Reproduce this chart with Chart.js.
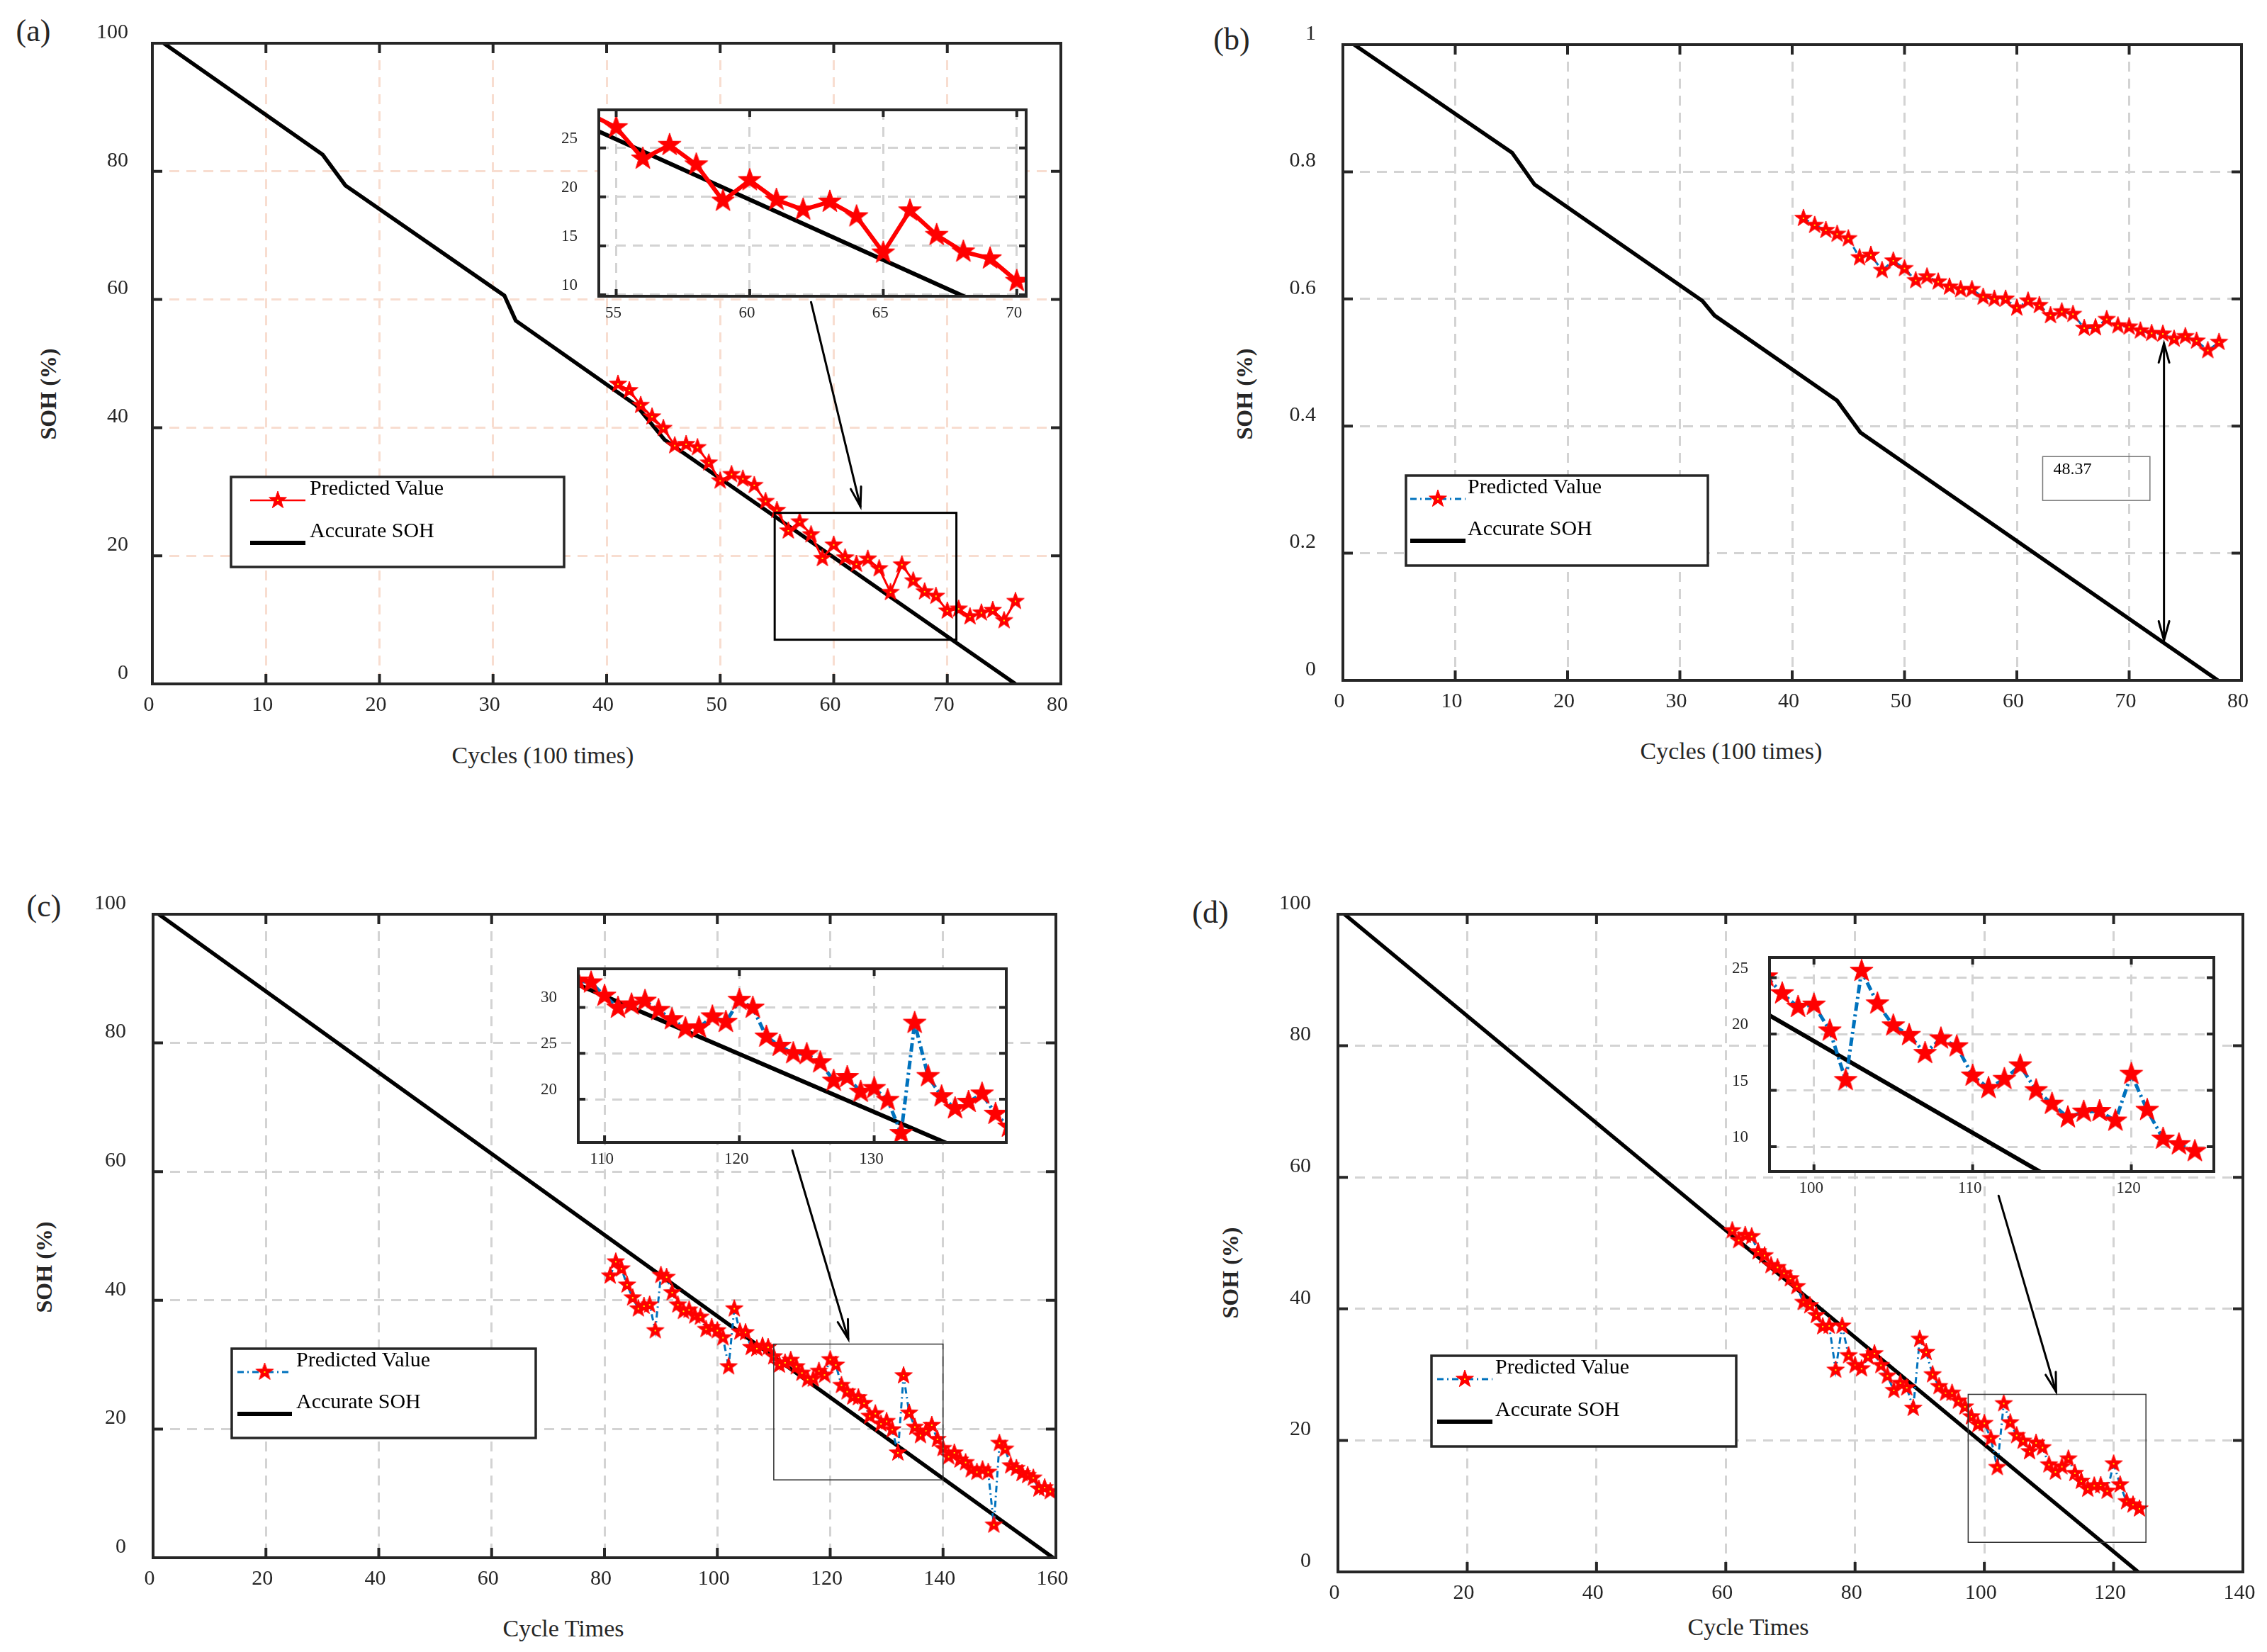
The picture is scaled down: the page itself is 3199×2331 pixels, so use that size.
<!DOCTYPE html>
<html>
<head>
<meta charset="utf-8">
<script src="https://cdn.jsdelivr.net/npm/chart.js@4.4.1/dist/chart.umd.min.js"></script>
<style>
body { margin: 0; background: #fff; width: 3199px; height: 2331px; position: relative; overflow: hidden;
       font-family: "Liberation Serif", "Times New Roman", serif; color: #262626; }
canvas { position: absolute; }
.lbl { position: absolute; white-space: nowrap; line-height: 1; transform: translate(-50%, -50%); }
.ytitle { font-weight: bold; transform: translate(-50%, -50%) rotate(-90deg); }
</style>
</head>
<body>
<div class="lbl" style="left:47px;top:44px;font-size:44px">(a)</div>
<div class="lbl" style="left:1738px;top:56px;font-size:44px">(b)</div>
<div class="lbl" style="left:62px;top:1279px;font-size:44px">(c)</div>
<div class="lbl" style="left:1708px;top:1288px;font-size:44px">(d)</div>
<div class="lbl ytitle" style="left:68px;top:556px;font-size:32px">SOH (%)</div>
<div class="lbl ytitle" style="left:1756px;top:556px;font-size:32px">SOH (%)</div>
<div class="lbl ytitle" style="left:62px;top:1788px;font-size:32px">SOH (%)</div>
<div class="lbl ytitle" style="left:1736px;top:1796px;font-size:32px">SOH (%)</div>
<div class="lbl" style="left:766px;top:1066px;font-size:34px">Cycles (100 times)</div>
<div class="lbl" style="left:2443px;top:1060px;font-size:34px">Cycles (100 times)</div>
<div class="lbl" style="left:795px;top:2298px;font-size:34px">Cycle Times</div>
<div class="lbl" style="left:2467px;top:2296px;font-size:34px">Cycle Times</div>
<script>
// ---------- data ----------
const aCycles = [41,42,43,44,45,46,47,48,49,50,51,52,53,54,55,56,57,58,59,60,61,62,63,64,65,66,67,68,69,70,71,72,73,74,75,76];
const aPredicted = [46.8,45.8,43.5,41.7,39.9,37.2,37.4,36.9,34.5,31.7,32.7,32.0,31.0,28.5,27.1,23.9,25.3,23.3,19.6,21.7,
                    19.7,18.7,19.5,18.0,14.3,18.6,16.1,14.4,13.7,11.4,11.7,10.5,11.1,11.5,9.9,12.9];
const aAccurateX = [1,15,17,31,32,42.6,45.1,76];
const aAccurateY = [100,82.6,77.8,60.6,56.7,43.5,38.1,0];

const bCycles = [41,42,43,44,45,46,47,48,49,50,51,52,53,54,55,56,57,58,59,60,61,62,63,64,65,66,67,68,69,70,71,72,73,74,75,76,77,78];
const bPredicted = [0.727,0.716,0.708,0.702,0.695,0.665,0.669,0.645,0.660,0.648,0.629,0.635,0.627,0.619,0.615,0.615,0.603,0.600,0.600,
                    0.586,0.597,0.590,0.574,0.580,0.576,0.554,0.555,0.568,0.558,0.556,0.550,0.546,0.545,0.537,0.541,0.534,0.519,0.532];
const bAccurateX = [1,15.06,17.06,32,33.08,44,46.07,77.9];
const bAccurateY = [1,0.830,0.780,0.597,0.574,0.440,0.390,0];

const cCycles = [81,82,83,84,85,86,87,88,89,90,91,92,93,94,95,96,97,98,99,100,101,102,103,104,105,106,107,108,109,110,
                 111,112,113,114,115,116,117,118,119,120,121,122,123,124,125,126,127,128,129,130,131,132,133,134,135,136,137,138,139,140,
                 141,142,143,144,145,146,147,148,149,150,151,152,153,154,155,156,157,158,159];
const cPredicted = [43.8,46.0,44.9,42.4,40.4,38.7,39.1,39.3,35.3,43.9,43.6,41.2,39.3,38.3,38.5,37.6,37.4,35.5,35.8,35.3,
                    34.2,29.7,38.7,35.1,35.0,32.7,32.5,32.9,32.7,31.25,29.95,30.3,30.7,29.7,28.7,27.7,27.8,29.0,28.4,30.8,
                    29.95,26.8,25.8,25.0,24.9,24.0,22.0,22.4,20.8,21.2,19.9,16.3,28.3,22.5,20.3,19.0,19.7,20.6,18.4,17.0,
                    15.7,16.3,15.2,14.8,13.7,13.3,13.7,13.3,5.1,17.8,16.9,14.3,13.9,13.1,12.8,12.4,10.7,10.9,10.3];
const cAccurateX = [1,159.5];
const cAccurateY = [100,0];

const dCycles = [61,62,63,64,65,66,67,68,69,70,71,72,73,74,75,76,77,78,79,80,81,82,83,84,85,86,87,88,89,90,
                 91,92,93,94,95,96,97,98,99,100,101,102,103,104,105,106,107,108,109,110,111,112,113,114,115,116,117,118,119,120,
                 121,122,123,124];
const dPredicted = [51.9,50.4,51.2,51.0,48.7,48.1,46.6,46.3,45.4,44.6,43.4,41.0,40.5,39.0,37.3,37.4,30.7,37.4,32.9,31.4,
                    30.9,32.7,33.2,31.4,29.8,27.6,28.7,28.0,24.9,35.4,33.4,30.0,28.2,27.2,27.2,26.0,25.1,23.6,22.4,22.6,
                    20.3,15.9,25.6,22.7,20.75,19.9,18.3,19.6,18.9,16.3,15.2,16.0,17.2,15.0,13.8,12.6,13.1,13.15,12.3,16.45,
                    13.25,10.7,10.2,9.6];
const dAccurateX = [1,123.8];
const dAccurateY = [100,0];

const sohTicks = [0,20,40,60,80,100];
const fractionTicks = [0,0.2,0.4,0.6,0.8,1];
const abXTicks = [0,10,20,30,40,50,60,70,80];
const cXTicks = [0,20,40,60,80,100,120,140,160];
const dXTicks = [0,20,40,60,80,100,120,140];
const aInsetXTicks = [55,60,65,70];
const aInsetYTicks = [10,15,20,25];
const cInsetXTicks = [110,120,130];
const cInsetYTicks = [20,25,30];
const dInsetXTicks = [100,110,120];
const dInsetYTicks = [10,15,20,25];

const bGapLabel = '48.37';

// ---------- styling ----------
const SERIF = '"Liberation Serif", "Times New Roman", serif';
const INK = '#262626';
const RED = '#ff0000';
const BLUE = '#0072bd';

function starImage(r, dot) {
  const s = Math.ceil(r * 2 + 4);
  const c = document.createElement('canvas');
  c.width = s; c.height = s;
  const g = c.getContext('2d');
  g.translate(s / 2, s / 2);
  g.beginPath();
  for (let i = 0; i < 10; i++) {
    const rr = i % 2 ? r * 0.4 : r;
    const a = -Math.PI / 2 + i * Math.PI / 5;
    g.lineTo(rr * Math.cos(a), rr * Math.sin(a));
  }
  g.closePath();
  g.fillStyle = RED; g.fill();
  g.strokeStyle = RED; g.lineWidth = 1; g.stroke();
  if (dot) { g.fillStyle = '#ffff00'; g.fillRect(-1, -1, 2, 2); }
  return c;
}
const starMain = starImage(13, true);
const starInset = starImage(17, false);

const pts = (xs, ys) => xs.map((x, i) => ({ x: x, y: ys[i] }));

function predictedSet(xs, ys, inset, dashed) {
  return {
    data: pts(xs, ys),
    borderColor: dashed ? BLUE : RED,
    borderWidth: inset ? 5 : 3,
    borderDash: dashed ? (inset ? [12, 5, 3, 5] : [9, 5, 2, 5]) : [],
    pointStyle: inset ? starInset : starMain,
    pointRadius: 6,
    tension: 0
  };
}
function accurateSet(xs, ys, inset) {
  return { data: pts(xs, ys), borderColor: '#000', borderWidth: inset ? 6 : 5.5, pointRadius: 0, tension: 0 };
}

function arrow(ctx, x1, y1, x2, y2, both) {
  ctx.save();
  ctx.strokeStyle = '#000'; ctx.lineWidth = 3; ctx.lineCap = 'round';
  ctx.beginPath(); ctx.moveTo(x1, y1); ctx.lineTo(x2, y2); ctx.stroke();
  const head = (tx, ty, fx, fy) => {
    const a = Math.atan2(ty - fy, tx - fx), L = 28, s = 0.27;
    ctx.beginPath();
    ctx.moveTo(tx - L * Math.cos(a - s), ty - L * Math.sin(a - s));
    ctx.lineTo(tx, ty);
    ctx.lineTo(tx - L * Math.cos(a + s), ty - L * Math.sin(a + s));
    ctx.stroke();
  };
  head(x2, y2, x1, y1);
  if (both) head(x1, y1, x2, y2);
  ctx.restore();
}

function dataRect(chart, x1, x2, y1, y2, width, color) {
  const { ctx, scales: { x, y } } = chart;
  ctx.save();
  ctx.strokeStyle = color; ctx.lineWidth = width;
  const l = x.getPixelForValue(x1), r = x.getPixelForValue(x2);
  const t = y.getPixelForValue(y2), b = y.getPixelForValue(y1);
  ctx.strokeRect(l, t, r - l, b - t);
  ctx.restore();
  return { l, t, r, b };
}

function dataArrow(chart, x1, y1, x2, y2, both) {
  const { ctx, scales: { x, y } } = chart;
  arrow(ctx, x.getPixelForValue(x1), y.getPixelForValue(y1), x.getPixelForValue(x2), y.getPixelForValue(y2), both);
}

// legend drawn in page coordinates, shifted into the canvas
function legend(chart, org, L) {
  const ctx = chart.ctx;
  const px = v => v - org.x, py = v => v - org.y;
  ctx.save();
  ctx.fillStyle = '#fff';
  ctx.fillRect(px(L.box[0]), py(L.box[1]), L.box[2] - L.box[0], L.box[3] - L.box[1]);
  ctx.strokeStyle = INK; ctx.lineWidth = 3.5;
  ctx.strokeRect(px(L.box[0]), py(L.box[1]), L.box[2] - L.box[0], L.box[3] - L.box[1]);
  // predicted
  ctx.strokeStyle = L.dashed ? BLUE : RED; ctx.lineWidth = L.dashed ? 3 : 2.5;
  ctx.setLineDash(L.dashed ? [9, 5, 2, 5] : []);
  ctx.beginPath(); ctx.moveTo(px(L.lineX[0]), py(L.y1)); ctx.lineTo(px(L.lineX[1]), py(L.y1)); ctx.stroke();
  ctx.setLineDash([]);
  const cx = px((L.lineX[0] + L.lineX[1]) / 2);
  ctx.drawImage(starMain, cx - starMain.width / 2, py(L.y1) - starMain.height / 2);
  // accurate
  ctx.strokeStyle = '#000'; ctx.lineWidth = 6;
  ctx.beginPath(); ctx.moveTo(px(L.lineX[0]), py(L.y2)); ctx.lineTo(px(L.lineX[1]), py(L.y2)); ctx.stroke();
  ctx.fillStyle = '#000';
  ctx.font = '30px ' + SERIF;
  ctx.textAlign = 'left'; ctx.textBaseline = 'middle';
  ctx.fillText('Predicted Value', px(L.textX), py(L.y1 - 16));
  ctx.fillText('Accurate SOH', px(L.textX), py(L.y2 - 16));
  ctx.restore();
}

function panel(o) {
  const cv = document.createElement('canvas');
  const W = o.r - o.l + o.padL + o.padR, H = o.b - o.t + o.padT + o.padB;
  cv.width = W; cv.height = H;
  const org = { x: o.l - o.padL, y: o.t - o.padT };
  cv.style.left = org.x + 'px'; cv.style.top = org.y + 'px';
  cv.style.zIndex = o.z || 1;
  document.body.appendChild(cv);
  const font = { family: SERIF, size: o.fontSize };
  const gridDash = [14, 10];

  const frame = {
    id: 'frame',
    beforeDraw(chart) {
      if (!o.white) return;
      const a = chart.chartArea;
      chart.ctx.save(); chart.ctx.fillStyle = '#fff';
      chart.ctx.fillRect(a.left, a.top, a.right - a.left, a.bottom - a.top);
      chart.ctx.restore();
    },
    afterDraw(chart) {
      const { ctx, chartArea: a, scales: { x, y } } = chart;
      ctx.save();
      ctx.strokeStyle = INK; ctx.lineWidth = o.frameWidth;
      ctx.beginPath();
      o.xTicks.forEach(v => {
        const p = x.getPixelForValue(v);
        ctx.moveTo(p, a.bottom); ctx.lineTo(p, a.bottom - o.tickLen);
        ctx.moveTo(p, a.top); ctx.lineTo(p, a.top + o.tickLen);
      });
      o.yTicks.forEach(v => {
        const p = y.getPixelForValue(v);
        ctx.moveTo(a.left, p); ctx.lineTo(a.left + o.tickLen, p);
        ctx.moveTo(a.right, p); ctx.lineTo(a.right - o.tickLen, p);
      });
      ctx.stroke();
      ctx.strokeRect(a.left, a.top, a.right - a.left, a.bottom - a.top);
      ctx.restore();
      if (o.extras) o.extras(chart, org);
    }
  };

  new Chart(cv, {
    type: 'line',
    data: { datasets: o.datasets },
    options: {
      responsive: false, animation: false, devicePixelRatio: 1,
      layout: { padding: { left: 0, top: o.padT, right: o.padR, bottom: 0 } },
      plugins: { legend: { display: false }, tooltip: { enabled: false } },
      events: [],
      scales: {
        x: {
          type: 'linear', min: o.xMin, max: o.xMax,
          afterFit: s => { s.height = o.padB; },
          afterBuildTicks: s => { s.ticks = o.xTicks.map(v => ({ value: v })); },
          grid: { color: o.gridColor, lineWidth: 3, drawTicks: false },
          border: { display: false, dash: gridDash },
          ticks: { font: font, color: INK, padding: o.xPad, labelOffset: o.xOff, maxRotation: 0, autoSkip: false,
                   callback: v => String(v) }
        },
        y: {
          type: 'linear', min: o.yMin, max: o.yMax,
          afterFit: s => { s.width = o.padL; },
          afterBuildTicks: s => { s.ticks = o.yTicks.map(v => ({ value: v })); },
          grid: { color: o.gridColor, lineWidth: 3, drawTicks: false },
          border: { display: false, dash: gridDash },
          ticks: { font: font, color: INK, padding: o.yPad, labelOffset: o.yOff, autoSkip: false,
                   callback: v => String(v) }
        }
      }
    },
    plugins: [frame]
  });
}

const mainStyle = { padL: 120, padT: 60, padR: 45, padB: 60, fontSize: 30, xPad: 12, xOff: -5, yOff: -15,
                    tickLen: 14, frameWidth: 4, gridColor: '#d3d3d3' };
const insetStyle = { padL: 62, padT: 48, padR: 20, padB: 48, fontSize: 23, xPad: 10, xOff: -4, yOff: -13, yPad: 30,
                     tickLen: 10, frameWidth: 4, gridColor: '#d3d3d3', white: true, z: 3 };

// (a)
panel(Object.assign({}, mainStyle, {
  l: 215, t: 61, r: 1497, b: 965, yPad: 34, gridColor: '#f8ddd0',
  xMin: 0, xMax: 80, xTicks: abXTicks, yMin: 0, yMax: 100, yTicks: sohTicks,
  datasets: [predictedSet(aCycles, aPredicted, false, false), accurateSet(aAccurateX, aAccurateY, false)],
  extras: (chart, org) => {
    dataRect(chart, 54.8, 70.8, 6.9, 26.7, 3, '#000');
    dataArrow(chart, 58.0, 59.6, 62.35, 27.7, false);
    legend(chart, org, { box: [326, 673, 796, 800], lineX: [353, 431], textX: 437, y1: 706, y2: 766, dashed: false });
  }
}));
panel(Object.assign({}, insetStyle, {
  l: 845, t: 155, r: 1448, b: 418,
  xMin: 54.35, xMax: 70.35, xTicks: aInsetXTicks, yMin: 9.85, yMax: 28.9, yTicks: aInsetYTicks,
  datasets: [Object.assign(predictedSet(aCycles, aPredicted, true, false), { borderWidth: 6 }),
             accurateSet(aAccurateX, aAccurateY, true)]
}));

// (b)
panel(Object.assign({}, mainStyle, {
  l: 1895, t: 63, r: 3163, b: 960, yPad: 38,
  xMin: 0, xMax: 80, xTicks: abXTicks, yMin: 0, yMax: 1, yTicks: fractionTicks,
  datasets: [predictedSet(bCycles, bPredicted, false, true), accurateSet(bAccurateX, bAccurateY, false)],
  extras: (chart, org) => {
    const box = dataRect(chart, 62.3, 71.85, 0.283, 0.352, 1.5, '#777');
    const ctx = chart.ctx;
    ctx.save();
    ctx.fillStyle = '#000'; ctx.font = '24px ' + SERIF; ctx.textAlign = 'left'; ctx.textBaseline = 'middle';
    ctx.fillText(bGapLabel, box.l + 15, box.t + 18);
    ctx.restore();
    dataArrow(chart, 73.1, 0.063, 73.1, 0.530, true);
    legend(chart, org, { box: [1984, 671, 2410, 798], lineX: [1990, 2068], textX: 2071, y1: 704, y2: 763, dashed: true });
  }
}));

// (c)
panel(Object.assign({}, mainStyle, {
  l: 216, t: 1290, r: 1490, b: 2198, yPad: 38,
  xMin: 0, xMax: 160, xTicks: cXTicks, yMin: 0, yMax: 100, yTicks: sohTicks,
  datasets: [predictedSet(cCycles, cPredicted, false, true), accurateSet(cAccurateX, cAccurateY, false)],
  extras: (chart, org) => {
    dataRect(chart, 110, 140, 12.1, 33.2, 1.5, '#333');
    dataArrow(chart, 113.3, 63.3, 123.2, 34.0, false);
    legend(chart, org, { box: [327, 1903, 756, 2029], lineX: [335, 412], textX: 418, y1: 1936, y2: 1995, dashed: true });
  }
}));
panel(Object.assign({}, insetStyle, {
  l: 816, t: 1367, r: 1420, b: 1612,
  xMin: 108.05, xMax: 139.8, xTicks: cInsetXTicks, yMin: 15.3, yMax: 34.2, yTicks: cInsetYTicks,
  datasets: [predictedSet(cCycles, cPredicted, true, true), accurateSet(cAccurateX, cAccurateY, true)]
}));

// (d)
panel(Object.assign({}, mainStyle, {
  l: 1888, t: 1290, r: 3165, b: 2218, yPad: 38,
  xMin: 0, xMax: 140, xTicks: dXTicks, yMin: 0, yMax: 100, yTicks: sohTicks,
  datasets: [predictedSet(dCycles, dPredicted, false, true), accurateSet(dAccurateX, dAccurateY, false)],
  extras: (chart, org) => {
    dataRect(chart, 97.5, 125, 4.5, 27, 1.5, '#333');
    dataArrow(chart, 102.2, 57.2, 111.1, 27.4, false);
    legend(chart, org, { box: [2020, 1913, 2450, 2041], lineX: [2028, 2106], textX: 2110, y1: 1946, y2: 2006, dashed: true });
  }
}));
panel(Object.assign({}, insetStyle, {
  l: 2497, t: 1351, r: 3124, b: 1653,
  xMin: 97.2, xMax: 125.2, xTicks: dInsetXTicks, yMin: 7.8, yMax: 26.8, yTicks: dInsetYTicks,
  datasets: [predictedSet(dCycles, dPredicted, true, true), accurateSet(dAccurateX, dAccurateY, true)]
}));
</script>
</body>
</html>
